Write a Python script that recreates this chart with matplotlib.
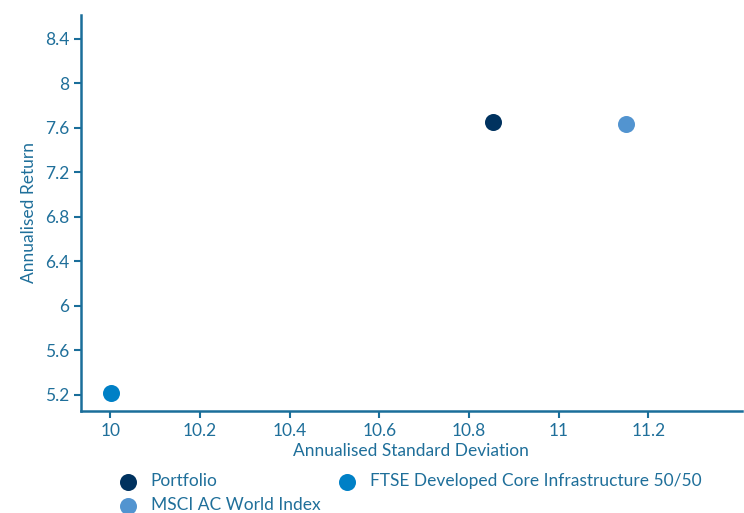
import matplotlib.pyplot as plt

# data
names = ["Portfolio", "MSCI AC World Index", "FTSE Developed Core Infrastructure 50/50"]
std_dev = [10.853, 11.151, 10.002]
returns = [7.654, 7.636, 5.216]
colors = ["#00325f", "#5294d0", "#0080c6"]

x_ticks = [10, 10.2, 10.4, 10.6, 10.8, 11, 11.2]
x_labels = ["10", "10.2", "10.4", "10.6", "10.8", "11", "11.2"]
y_ticks = [5.2, 5.6, 6, 6.4, 6.8, 7.2, 7.6, 8, 8.4]
y_labels = ["5.2", "5.6", "6", "6.4", "6.8", "7.2", "7.6", "8", "8.4"]

axis_col = "#1a6e9a"
text_col = "#1f6f9a"

plt.rcParams['font.family'] = ['Lato', 'DejaVu Sans']

fig = plt.figure(figsize=(7.44, 5.13), dpi=100)
ax = fig.add_axes([0.1089, 0.1988, 0.888, 0.772])

for n, x, y, c in zip(names, std_dev, returns, colors):
    ax.scatter(x, y, s=150, color=c, label=n, zorder=3, linewidths=0)

ax.set_xlim(9.935, 11.408)
ax.set_ylim(5.056, 8.615)
ax.set_xticks(x_ticks)
ax.set_xticklabels(x_labels)
ax.set_yticks(y_ticks)
ax.set_yticklabels(y_labels)

for s in ["top", "right"]:
    ax.spines[s].set_visible(False)
for s in ["left", "bottom"]:
    ax.spines[s].set_color(axis_col)
    ax.spines[s].set_linewidth(1.8)
ax.tick_params(colors=axis_col, labelcolor=text_col, labelsize=12.5,
               length=5, width=1.5, direction='out')

ax.set_xlabel("Annualised Standard Deviation", color=text_col, fontsize=12.5, labelpad=3)
ax.set_ylabel("Annualised Return", color=text_col, fontsize=12.5, labelpad=6)

leg = fig.legend(loc='upper left', bbox_to_anchor=(0.1604, 0.077), ncol=2,
                 frameon=False, fontsize=12.5, handlelength=1.0, handletextpad=0.8,
                 columnspacing=1.05, labelspacing=0.45, markerscale=1.0,
                 borderaxespad=0, borderpad=0)
for t in leg.get_texts():
    t.set_color(text_col)

fig.savefig("out.png", dpi=100)
